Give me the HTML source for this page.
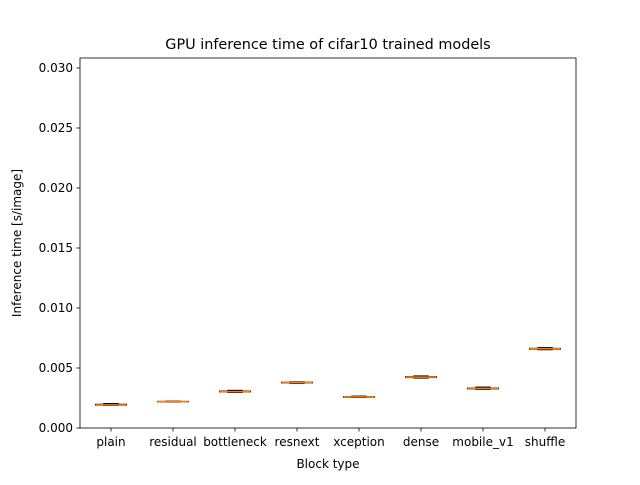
<!DOCTYPE html>
<html><head><meta charset="utf-8"><style>
body{margin:0;background:#fff;}
text{font-family:"DejaVu Sans","Liberation Sans",sans-serif;fill:#000;}
</style></head><body>
<svg id="chart" width="640" height="480" xmlns="http://www.w3.org/2000/svg">
<rect width="640" height="480" fill="#fff"/>
<text x="328" y="49" font-size="14.4" text-anchor="middle">GPU inference time of cifar10 trained models</text>
<g id="plot"></g>
<rect x="80" y="58" width="496" height="370" fill="none" stroke="#000" stroke-width="0.8"/>
<text x="328" y="468" font-size="12" text-anchor="middle">Block type</text>
<text transform="translate(21,243) rotate(-90)" font-size="12" text-anchor="middle">Inference time [s/image]</text>
</svg>
<script>
const categories=["plain","residual","bottleneck","resnext","xception","dense","mobile_v1","shuffle"];
const mins=[0.00188,0.00216,0.00296,0.00372,0.00254,0.00416,0.00322,0.00652];
const q1s=[0.00190,0.00218,0.00300,0.00376,0.00256,0.00420,0.00326,0.00656];
const medians=[0.00193,0.00220,0.00303,0.00379,0.00259,0.00424,0.00330,0.00660];
const q3s=[0.00198,0.00222,0.00308,0.00382,0.00262,0.00428,0.00334,0.00664];
const maxs=[0.00204,0.00224,0.00314,0.00385,0.00266,0.00434,0.00341,0.00670];
const yTicks=[0,0.005,0.01,0.015,0.02,0.025,0.03];
const yTickLabels=["0.000","0.005","0.010","0.015","0.020","0.025","0.030"];
const X0=80,X1=576,Y0=428,Y1=58,YMAX=0.030833;
const ns="http://www.w3.org/2000/svg";
const svg=document.getElementById('chart');const g=document.getElementById('plot');
function y(v){return Y0-(v/YMAX)*(Y0-Y1);}
const step=(X1-X0)/categories.length;
function x(i){return X0+step*(i+0.5);}
function mk(tag,a,parent){const e=document.createElementNS(ns,tag);for(const k in a)e.setAttribute(k,a[k]);(parent||g).appendChild(e);return e;}
yTicks.forEach((t,i)=>{
 const l=mk('line',{x1:X0-3.5,x2:X0,y1:y(t),y2:y(t),stroke:'#000','stroke-width':0.8},svg);
 
 
 const tx=mk('text',{x:X0-7,y:y(t)+4,'font-size':12,'text-anchor':'end'},svg);tx.textContent=yTickLabels[i];
 
 
});
categories.forEach((c,i)=>{
 const cx=x(i),bw=step*0.5,cw=bw/2;
 const l=mk('line',{x1:cx,x2:cx,y1:Y0,y2:Y0+3.5,stroke:'#000','stroke-width':0.8},svg);
 
 
 const tx=mk('text',{x:cx,y:Y0+18,'font-size':12,'text-anchor':'middle'},svg);tx.textContent=c;
 
 
 const bg=mk('g',{});
 
 
 mk('line',{x1:cx,x2:cx,y1:y(mins[i]),y2:y(q1s[i]),stroke:'#000','stroke-width':1},bg);
 mk('line',{x1:cx,x2:cx,y1:y(q3s[i]),y2:y(maxs[i]),stroke:'#000','stroke-width':1},bg);
 mk('line',{x1:cx-cw/2,x2:cx+cw/2,y1:y(mins[i]),y2:y(mins[i]),stroke:'#000','stroke-width':1},bg);
 mk('line',{x1:cx-cw/2,x2:cx+cw/2,y1:y(maxs[i]),y2:y(maxs[i]),stroke:'#000','stroke-width':1},bg);
 mk('rect',{x:cx-bw/2,y:y(q3s[i]),width:bw,height:Math.max(0.5,y(q1s[i])-y(q3s[i])),fill:'none',stroke:'#000','stroke-width':1},bg);
 mk('line',{x1:cx-bw/2,x2:cx+bw/2,y1:y(medians[i]),y2:y(medians[i]),stroke:'#ff7f0e','stroke-width':1.5},bg);
});
</script>
</body></html>
